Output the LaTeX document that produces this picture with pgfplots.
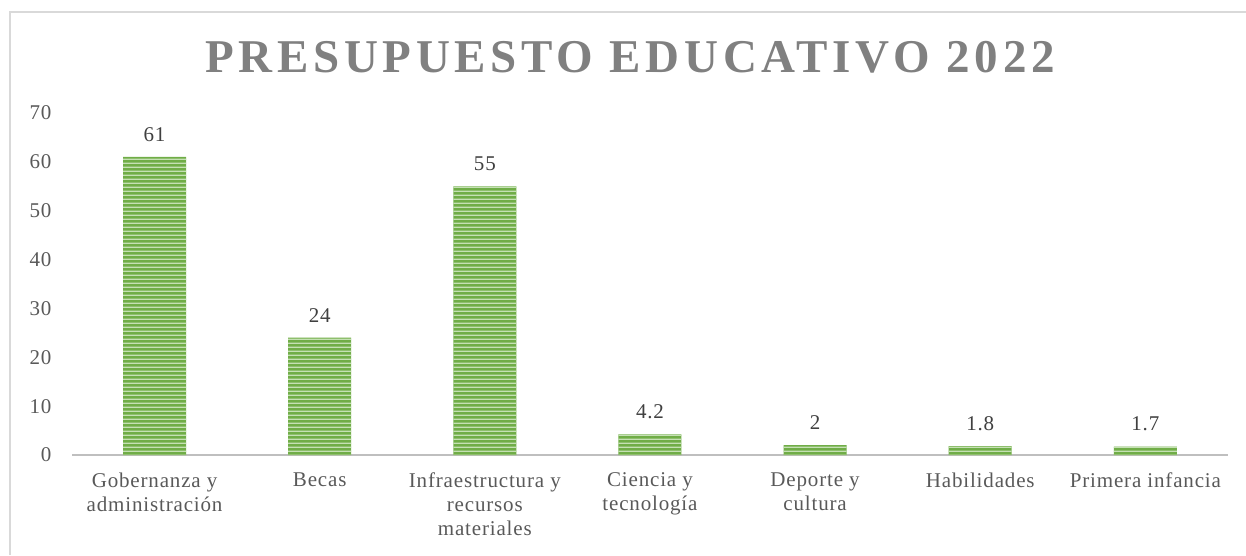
\documentclass[border=0pt]{standalone}
\usepackage{pgfplots}
\pgfplotsset{compat=1.18}
\usepackage{fontspec}
\setmainfont{Liberation Serif}
\newfontfamily\titlefont[LetterSpace=10]{Liberation Serif}
\newfontfamily\labfont[LetterSpace=4]{Liberation Serif}
\usetikzlibrary{patterns}
\pgfdeclarepatternformonly{hlfour}{\pgfpointorigin}{\pgfqpoint{1400pt}{4pt}}{\pgfqpoint{1400pt}{4pt}}{\pgfpathrectangle{\pgfqpoint{0pt}{0pt}}{\pgfqpoint{1400pt}{1.7pt}}\pgfusepath{fill}}
\definecolor{barg}{RGB}{112,173,71}
\definecolor{barl}{RGB}{197,224,180}
\definecolor{txt}{RGB}{89,89,89}
\definecolor{dlab}{RGB}{64,64,64}
\definecolor{ttl}{RGB}{128,128,128}
\definecolor{axg}{RGB}{191,191,191}
\definecolor{frm}{RGB}{217,217,217}
\begin{document}
\begin{tikzpicture}[x=1pt,y=1pt]
\path[use as bounding box] (0,0) rectangle (1246,555);
\draw[frm, line width=1.5pt] (10,0) -- (10,543) -- (1246,543);
\node[ttl, font=\titlefont\bfseries\fontsize{47}{50}\selectfont] at (630,498) {PRESUPUESTO EDUCATIVO 2022};
\begin{axis}[
  at={(72pt,100pt)}, anchor=south west,
  scale only axis, width=1156pt, height=342pt,
  xmin=-0.5, xmax=6.5, ymin=0, ymax=70,
  axis x line*=bottom, axis y line*=left,
  x axis line style={axg, line width=2pt, -},
  y axis line style={draw=none},
  xtick=data, xtick style={draw=none}, ytick style={draw=none},
  ytick={0,10,...,70},
  xticklabels={Gobernanza y\\administración, Becas, Infraestructura y\\recursos\\materiales, Ciencia y\\tecnología, Deporte y\\cultura, Habilidades, Primera infancia},
  xticklabel style={align=center, font=\labfont\fontsize{21}{24}\selectfont, text=txt, yshift=-10pt},
  yticklabel style={font=\labfont\fontsize{21}{24}\selectfont, text=txt, xshift=-17pt},
  /pgf/number format/assume math mode=true,
  ybar, bar width=63pt,
  nodes near coords,
  every node near coord/.append style={font=\labfont\fontsize{21}{24}\selectfont, text=dlab, yshift=12pt},
  clip=false,
]
\addplot[draw=none, fill=barg, postaction={pattern=hlfour, pattern color=barl}] coordinates {(0,61) (1,24) (2,55) (3,4.2) (4,2) (5,1.8) (6,1.7)};
\end{axis}
\end{tikzpicture}
\end{document}
